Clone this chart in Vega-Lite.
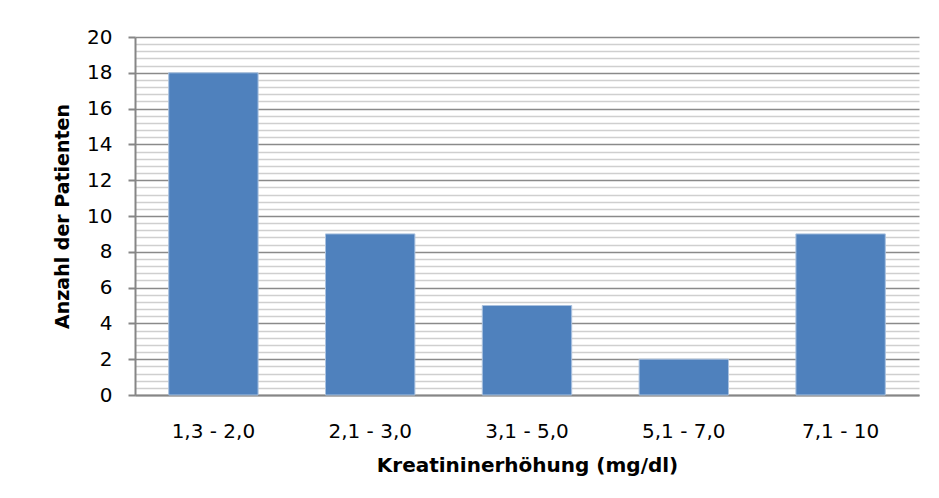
{
  "$schema": "https://vega.github.io/schema/vega-lite/v6.json",
  "width": 784,
  "height": 358,
  "autosize": "none",
  "padding": {"left": 135, "top": 37, "right": 20, "bottom": 103},
  "background": "white",
  "config": {"view": {"stroke": null}, "font": "DejaVu Sans"},
  "data": {"values": [
    {"range": "1,3 - 2,0", "count": 18},
    {"range": "2,1 - 3,0", "count": 9},
    {"range": "3,1 - 5,0", "count": 5},
    {"range": "5,1 - 7,0", "count": 2},
    {"range": "7,1 - 10", "count": 9}
  ]},
  "mark": {"type": "bar", "color": "#4f81bd", "stroke": "#a9c1df", "strokeWidth": 1},
  "encoding": {
    "x": {
      "field": "range", "type": "nominal", "sort": null,
      "scale": {"paddingInner": 0.43, "paddingOuter": 0.215},
      "axis": {
        "title": "Kreatininerhöhung (mg/dl)",
        "titleFont": "DejaVu Sans", "titleFontSize": 20, "titleFontWeight": "bold", "titleColor": "#000",
        "titlePadding": 14,
        "labelAngle": 0, "labelFont": "DejaVu Sans", "labelFontSize": 20, "labelColor": "#000", "labelPadding": 26,
        "ticks": false, "domainColor": "#868686", "domainWidth": 2
      }
    },
    "y": {
      "field": "count", "type": "quantitative",
      "scale": {"domain": [0, 20], "nice": false},
      "axis": {
        "title": "Anzahl der Patienten",
        "titleFont": "DejaVu Sans", "titleFontSize": 19, "titleFontWeight": "bold", "titleColor": "#000",
        "titlePadding": 14,
        "values": [0,0.4,0.8,1.2,1.6,2,2.4,2.8,3.2,3.6,4,4.4,4.8,5.2,5.6,6,6.4,6.8,7.2,7.6,8,8.4,8.8,9.2,9.6,10,10.4,10.8,11.2,11.6,12,12.4,12.8,13.2,13.6,14,14.4,14.8,15.2,15.6,16,16.4,16.8,17.2,17.6,18,18.4,18.8,19.2,19.6,20],
        "labelExpr": "abs(datum.value - round(datum.value/2)*2) < 0.01 ? format(datum.value, 'd') : ''",
        "labelFont": "DejaVu Sans", "labelFontSize": 20, "labelColor": "#000", "labelPadding": 16,
        "grid": true,
        "gridColor": {"condition": {"test": "abs(datum.value - round(datum.value/2)*2) < 0.01", "value": "#8a8a8a"}, "value": "#cfcfcf"},
        "gridWidth": 1.5,
        "tickColor": "#868686",
        "tickOpacity": {"condition": {"test": "abs(datum.value - round(datum.value/2)*2) < 0.01", "value": 1}, "value": 0},
        "tickSize": 7, "tickWidth": 2,
        "domainColor": "#868686", "domainWidth": 2
      }
    }
  }
}
